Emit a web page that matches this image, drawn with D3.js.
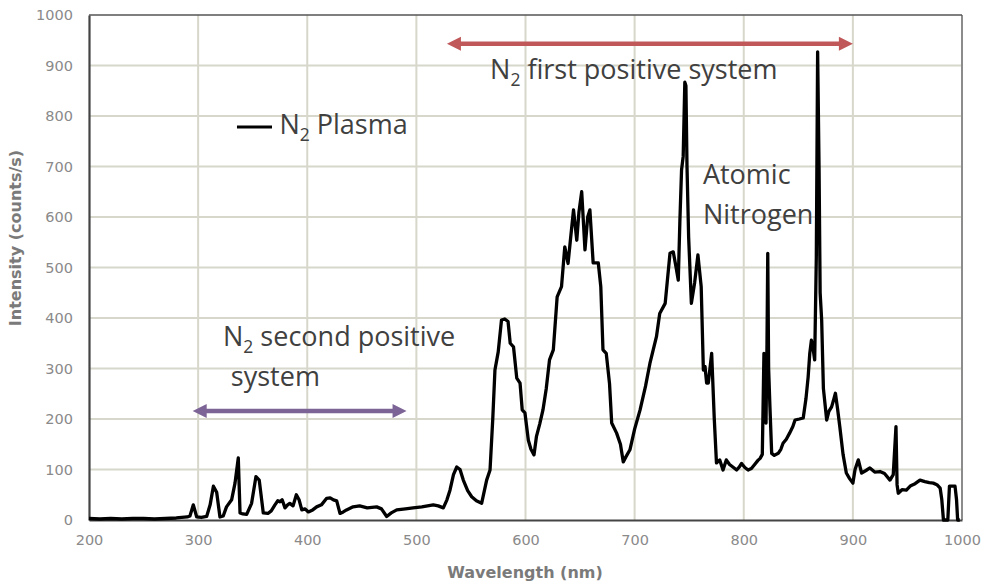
<!DOCTYPE html>
<html>
<head>
<meta charset="utf-8">
<script src="https://cdn.jsdelivr.net/npm/d3@7"></script>
<style>
  html, body { margin: 0; padding: 0; background: #fff; }
  svg { display: block; }
</style>
</head>
<body>
<svg id="chart" width="986" height="583"></svg>
<script>
// Emission spectrum of an N2 plasma: wavelength (nm) and intensity (counts/s)
const wavelength = [
  200, 210, 220, 230, 240, 250, 260, 270, 280, 285, 290, 292.5, 295.6, 298.7, 303, 307.8,
  311, 314, 317, 320, 323, 326, 330.7, 333.8, 336.8, 338.4, 341, 344.5, 349, 353, 356,
  359.7, 364, 367, 370.4, 373, 375, 377, 379.6, 382, 384, 387, 390, 392.5, 395, 398, 401,
  405, 408.6, 413, 417.8, 421, 424, 427, 430, 433, 436, 442, 448, 455, 463.6, 468, 472.8,
  477, 482, 490, 497, 505, 515.5, 520, 524.7, 528, 530.8, 534, 537, 540, 543, 547, 550.7,
  555, 559.8, 564.4, 567.5, 570, 572, 575, 578, 581, 584, 586, 589, 592, 595, 597, 599.5,
  602.6, 605, 607.8, 610, 613, 616, 619, 622, 625.5, 629, 633, 636, 639, 641, 644, 647,
  649, 651.5, 654.5, 657, 659, 662, 666.7, 669, 671, 674, 677, 679, 683.5, 687, 689.6,
  692, 695.7, 700, 705, 710, 714, 720, 723, 728, 732.4, 735.4, 738, 740, 741.5, 743, 744.5,
  746, 747, 748, 749.5, 752, 755, 758, 761, 763, 764.5, 766, 767.5, 770.6, 773, 775, 778,
  781, 784, 787, 790, 793.5, 796, 798, 801, 804, 807, 810, 813, 815, 817, 818.5, 819.5,
  820.4, 821.3, 822, 822.8, 824, 825.6, 828, 831.6, 834, 836, 839, 842, 845, 847, 851,
  854.5, 857, 859, 860.5, 862, 863.5, 865, 866.5, 867.7, 869, 870, 871.4, 873, 876, 878,
  880.5, 882, 884, 886, 888, 891, 894, 897, 900, 902, 905, 908, 912, 915.6, 920, 924.8,
  929, 934, 937, 939.5, 940.5, 941.6, 945, 949, 953, 957, 961.5, 966, 970, 973.7, 977,
  980, 981.5, 983, 985, 987, 988.5, 990.5, 993.6, 995, 996, 998
];
const intensity = [
  3, 2, 3, 2, 3, 3, 2, 3, 4, 5, 6, 8, 30, 6, 5, 7,
  30, 67, 55, 6, 8, 26, 40, 73, 123, 14, 12, 11, 33, 86, 79,
  14, 13, 18, 30, 38, 36, 40, 24, 30, 33, 28, 50, 40, 20, 22, 16,
  20, 26, 30, 43, 44, 40, 38, 13, 16, 20, 26, 28, 24, 26, 22, 7,
  14, 20, 22, 24, 26, 30, 28, 24, 40, 59, 90, 105, 100, 79, 58, 46,
  38, 33, 79, 99, 200, 297, 333, 396, 398, 393, 350, 343, 281, 271, 218, 212,
  158, 140, 129, 165, 190, 218, 260, 317, 337, 442, 462, 541, 508, 551, 614, 554,
  610, 650, 535, 600, 614, 509, 509, 462, 337, 330, 270, 192, 172, 150, 115,
  125, 139, 180, 218, 265, 310, 363, 409, 429, 528, 531, 500, 475, 594, 693, 720,
  867, 860, 700, 560, 429, 470, 525, 462, 297, 304, 271, 271, 330, 200, 113, 119,
  99, 119, 110, 105, 99, 105, 112, 104, 99, 102, 110, 118, 122, 130, 330, 250,
  192, 350, 528, 300, 224, 132, 128, 132, 140, 152, 160, 172, 185, 198, 200,
  202, 240, 283, 330, 356, 340, 317, 520, 927, 700, 450, 396, 260, 198, 215,
  224, 235, 251, 220, 185, 130, 93, 82, 73, 100, 119, 93, 98, 103, 95, 96,
  92, 79, 90, 185, 70, 53, 60, 59, 68, 72, 79, 76, 74, 73, 70,
  63, 40, 0, 0, 0, 67, 67, 67, 40, 0, 0
];

// Axis ticks
const xTicks = [200, 300, 400, 500, 600, 700, 800, 900, 1000];
const yTicks = [0, 100, 200, 300, 400, 500, 600, 700, 800, 900, 1000];

// Band-system ranges drawn as double-headed arrows [from nm, to nm, intensity level]
const firstPositiveRange = [528, 900, 943];
const secondPositiveRange = [295, 491, 216];

const svg = d3.select("#chart");
const margin = { left: 89, right: 24, top: 15, bottom: 63 };
const W = 986, H = 583;

const x = d3.scaleLinear().domain([200, 1000]).range([margin.left, W - margin.right]);
const y = d3.scaleLinear().domain([0, 1000]).range([H - margin.bottom, margin.top]);

const gridColor = "#d8d7cb";
const tickColor = "#8a8a8a";
const axisFont = "'DejaVu Sans', Verdana, sans-serif";

// Gridlines
svg.append("g").selectAll("line").data(xTicks.slice(1, -1)).join("line")
  .attr("x1", d => x(d)).attr("x2", d => x(d))
  .attr("y1", y(1000)).attr("y2", y(0))
  .attr("stroke", gridColor).attr("stroke-width", 2);
svg.append("g").selectAll("line").data(yTicks.slice(1, -1)).join("line")
  .attr("x1", x(200)).attr("x2", x(1000))
  .attr("y1", d => y(d)).attr("y2", d => y(d))
  .attr("stroke", gridColor).attr("stroke-width", 2);

// Plot frame
svg.append("line").attr("x1", x(1000)).attr("x2", x(1000)).attr("y1", y(1000)).attr("y2", y(0))
  .attr("stroke", "#8c8c8c").attr("stroke-width", 2);
svg.append("line").attr("x1", x(200)).attr("x2", x(1000)).attr("y1", y(1000)).attr("y2", y(1000))
  .attr("stroke", "#555").attr("stroke-width", 1.5);

// Axes
const xAxis = d3.axisBottom(x).tickValues(xTicks).tickFormat(d3.format("d")).tickSize(0).tickPadding(15);
const yAxis = d3.axisLeft(y).tickValues(yTicks).tickFormat(d3.format("d")).tickSize(0).tickPadding(16);

const gx = svg.append("g").attr("transform", `translate(0,${y(0)})`).call(xAxis);
const gy = svg.append("g").attr("transform", `translate(${x(200)},0)`).call(yAxis);
[gx, gy].forEach(g => {
  g.select(".domain").attr("stroke", "#444").attr("stroke-width", 2.2);
  g.selectAll("text")
    .attr("fill", tickColor)
    .attr("font-family", axisFont)
    .attr("font-size", 14.5);
});
gx.selectAll("text").attr("dy", "0.71em");

// Axis titles
svg.append("text")
  .attr("x", 525).attr("y", 578)
  .attr("text-anchor", "middle")
  .attr("font-family", axisFont)
  .attr("font-weight", "bold").attr("font-size", 16)
  .attr("fill", "#7a7a7a")
  .text("Wavelength (nm)");
svg.append("text")
  .attr("transform", "translate(21,238) rotate(-90)")
  .attr("text-anchor", "middle")
  .attr("font-family", axisFont)
  .attr("font-weight", "bold").attr("font-size", 16)
  .attr("fill", "#7a7a7a")
  .text("Intensity (counts/s)");

// Spectrum
const line = d3.line()
  .x((d, i) => x(wavelength[i]))
  .y(d => y(d));
svg.append("path")
  .datum(intensity)
  .attr("d", line)
  .attr("fill", "none")
  .attr("stroke", "#000")
  .attr("stroke-width", 3.3)
  .attr("stroke-linejoin", "round");

// Double-headed arrows
function rangeArrow([a, b, level], color) {
  const g = svg.append("g");
  const yy = y(level), x0 = x(a), x1 = x(b), hw = 14, hh = 7;
  g.append("line").attr("x1", x0 + hw - 2).attr("x2", x1 - hw + 2)
    .attr("y1", yy).attr("y2", yy)
    .attr("stroke", color).attr("stroke-width", 4.5);
  g.append("path").attr("d", `M${x0},${yy} L${x0 + hw},${yy - hh} L${x0 + hw},${yy + hh} Z`).attr("fill", color);
  g.append("path").attr("d", `M${x1},${yy} L${x1 - hw},${yy - hh} L${x1 - hw},${yy + hh} Z`).attr("fill", color);
}
rangeArrow(firstPositiveRange, "#c0585a");
rangeArrow(secondPositiveRange, "#7d6496");

// Annotation text
const annoFont = "'Open Sans', Lato, sans-serif";
const annoSize = 27;
const annoColor = "#404040";
function labelN2(px, py, rest) {
  const t = svg.append("text")
    .attr("x", px).attr("y", py)
    .attr("font-family", annoFont).attr("font-size", annoSize).attr("fill", annoColor);
  t.append("tspan").text("N");
  t.append("tspan").attr("font-size", 17.5).attr("dy", 7).text("2");
  t.append("tspan").attr("dy", -7).text(" " + rest);
  return t;
}
function label(px, py, str) {
  svg.append("text").attr("x", px).attr("y", py)
    .attr("font-family", annoFont).attr("font-size", annoSize).attr("fill", annoColor)
    .text(str);
}
labelN2(x(567.5), y(873), "first positive system");
labelN2(x(322.8), y(345), "second positive");
label(x(330), y(265), "system");
label(x(762.6), y(665), "Atomic");
label(x(762.6), y(586), "Nitrogen");

// Legend
svg.append("line")
  .attr("x1", x(335.6)).attr("x2", x(367.7))
  .attr("y1", y(778)).attr("y2", y(778))
  .attr("stroke", "#000").attr("stroke-width", 3);
labelN2(x(374.5), y(765), "Plasma");
</script>
</body>
</html>
